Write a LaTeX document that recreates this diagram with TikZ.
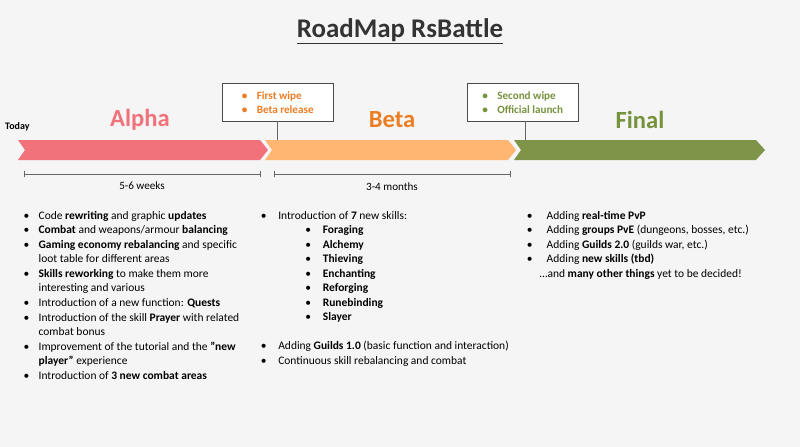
\documentclass[tikz,border=0pt]{standalone}
\usepackage{fontspec}
\setmainfont{Carlito}
\usepackage{enumitem}
\definecolor{alphac}{HTML}{F2727B}
\definecolor{betac}{HTML}{FFB673}
\definecolor{finalc}{HTML}{7E9449}
\definecolor{betat}{HTML}{EC7C22}
\definecolor{finalt}{HTML}{76923C}
\tikzset{
  phase/.style={font=\fontsize{21}{24}\selectfont\bfseries},
  milestone/.style={draw=black!70, fill=white, align=left, inner sep=3pt, font=\fontsize{9.5}{12}\selectfont\bfseries},
  span/.style={draw=black!60, |-|, thin},
  spanlabel/.style={font=\fontsize{9.5}{12}\selectfont},
  col/.style={anchor=north west, inner sep=0pt, font=\fontsize{9.8}{12.4}\selectfont, align=left}
}
\setlist[itemize]{label=\textbullet, nosep, leftmargin=14pt, labelsep=8pt}
\begin{document}
\begin{tikzpicture}[x=0.03cm, y=-0.03cm]
	\useasboundingbox (0,0) rectangle (800,447);
	\fill[black!4] (0,0) rectangle (800,447);
	\node[font=\fontsize{23}{26}\selectfont\bfseries, text=black!80] (title) at (400,31) {\underline{RoadMap RsBattle}};
	\node[font=\fontsize{8.5}{10}\selectfont\bfseries, anchor=west, inner sep=0pt] (today) at (5,127) {Today};
	% chevrons
	\fill[alphac] (18,140) -- (260,140) -- (268,150) -- (260,160) -- (18,160) -- (25,150) -- cycle;
	\fill[betac] (265,140) -- (508,140) -- (516,150) -- (508,160) -- (265,160) -- (272,150) -- cycle;
	\fill[finalc] (514,140) -- (756,140) -- (765,150) -- (756,160) -- (514,160) -- (521,150) -- cycle;
	\node[phase, text=alphac] (alpha) at (140,120) {Alpha};
	\node[phase, text=betat] (beta) at (392,120) {Beta};
	\node[phase, text=finalt] (final) at (640,120) {Final};
	% milestones
	\node[milestone, text=betat, minimum width=111*0.03cm, minimum height=38*0.03cm, anchor=north west] (wipe1) at (222,83)
		{\textbullet\hspace{8pt}First wipe\\ \textbullet\hspace{8pt}Beta release};
	\node[milestone, text=finalt, minimum width=111*0.03cm, minimum height=38*0.03cm, anchor=north west] (wipe2) at (467,83)
		{\textbullet\hspace{8pt}Second wipe\\ \textbullet\hspace{8pt}Official launch};
	\coordinate (m1) at (277,140);
	\coordinate (m2) at (525,140);
	\draw[black!60] (wipe1.south -| m1) -- (m1);
	\draw[black!60] (wipe2.south -| m2) -- (m2);
	% spans
	\coordinate (a1) at (24,174); \coordinate (a2) at (260,174);
	\coordinate (b1) at (274,174); \coordinate (b2) at (510,174);
	\draw[span] (a1) -- (a2);
	\draw[span] (b1) -- (b2);
	\node[spanlabel] (weeks) at (142,186) {5-6 weeks};
	\node[spanlabel] (months) at (392,187) {3-4 months};
	% columns
	\node[col] (alphalist) at (22,211) {\begin{minipage}{6.8cm}\begin{itemize}
		\item Code \textbf{rewriting} and graphic \textbf{updates}
		\item \textbf{Combat} and weapons/armour \textbf{balancing}
		\item \textbf{Gaming economy rebalancing} and specific\\ loot table for different areas
		\item \textbf{Skills reworking} to make them more\\ interesting and various
		\item Introduction of a new function: \textbf{Quests}
		\item Introduction of the skill \textbf{Prayer} with related\\ combat bonus
		\item Improvement of the tutorial and the \textbf{"new}\\ \textbf{player"} experience
		\item Introduction of \textbf{3 new combat areas}
	\end{itemize}\end{minipage}};
	\node[col] (betalist) at (257,211) {\begin{minipage}{8cm}\begin{itemize}[labelsep=10pt, leftmargin=18pt]
		\item Introduction of \textbf{7} new skills:
		\begin{itemize}[leftmargin=38pt, labelsep=10pt]
			\item \textbf{Foraging}
			\item \textbf{Alchemy}
			\item \textbf{Thieving}
			\item \textbf{Enchanting}
			\item \textbf{Reforging}
			\item \textbf{Runebinding}
			\item \textbf{Slayer}
		\end{itemize}
		\item[] \vspace{0pt}
		\item Adding \textbf{Guilds 1.0} (basic function and interaction)
		\item Continuous skill rebalancing and combat
	\end{itemize}\end{minipage}};
	\node[col] (finallist) at (523,211) {\begin{minipage}{8cm}\begin{itemize}[labelsep=12pt, leftmargin=20pt]
		\item Adding \textbf{real-time PvP}
		\item Adding \textbf{groups PvE} (dungeons, bosses, etc.)
		\item Adding \textbf{Guilds 2.0} (guilds war, etc.)
		\item Adding \textbf{new skills (tbd)}
	\end{itemize}\hspace*{14pt}\dots and \textbf{many other things} yet to be decided!\end{minipage}};
\end{tikzpicture}
\end{document}
